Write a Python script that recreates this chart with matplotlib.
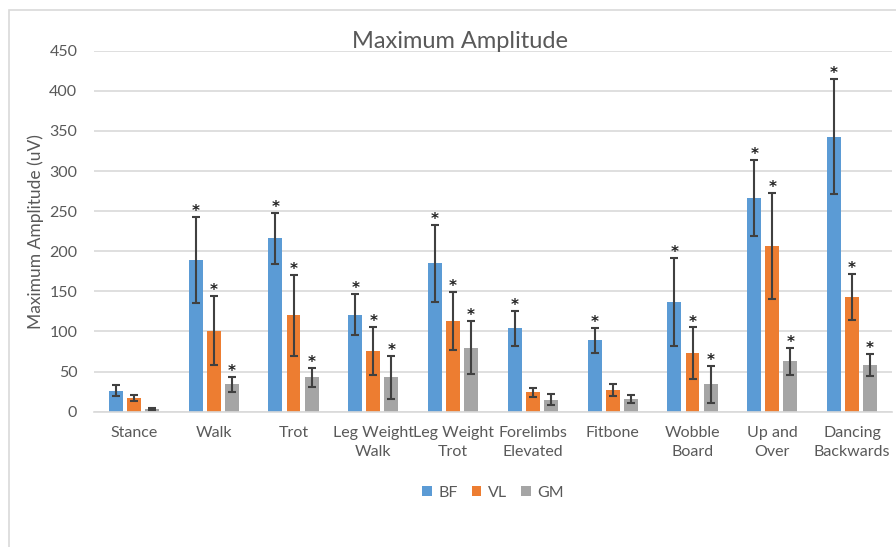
import matplotlib
matplotlib.use("Agg")
import matplotlib.pyplot as plt
import numpy as np
from matplotlib.patches import Rectangle

categories = ["Stance", "Walk", "Trot", "Leg Weight\nWalk", "Leg Weight\nTrot",
              "Forelimbs\nElevated", "Fitbone", "Wobble\nBoard", "Up and\nOver",
              "Dancing\nBackwards"]
series_names = ["BF", "VL", "GM"]
bf = [26, 189, 216, 121, 185, 104, 89, 137, 266, 343]
vl = [17, 101, 120, 76, 113, 24, 27, 73, 207, 143]
gm = [3, 34, 43, 43, 80, 15, 16, 34, 63, 58]
bf_err = [7, 54, 32, 26, 48, 22, 15.5, 55, 47.5, 71.5]
vl_err = [4, 43, 51, 30, 36, 5.5, 7.7, 32, 66, 29]
gm_err = [1.5, 9.5, 12, 27, 33, 6.5, 5, 23, 17, 14]
bf_sig = [0, 1, 1, 1, 1, 1, 1, 1, 1, 1]
vl_sig = [0, 1, 1, 1, 1, 0, 0, 1, 1, 1]
gm_sig = [0, 1, 1, 1, 1, 0, 0, 1, 1, 1]

plt.rcParams["font.family"] = ["Lato", "DejaVu Sans"]

colors = ["#5B9BD5", "#ED7D31", "#A5A5A5"]
text_col = "#595959"

W, H = 896, 547
fig = plt.figure(figsize=(W / 100, H / 100), dpi=100)
fig.patch.set_facecolor("white")
# chart area border
fig.patches.append(Rectangle((9 / W, -0.05), 1.2, (H - 10) / H + 0.05,
                             transform=fig.transFigure, fill=False,
                             edgecolor="#d9d9d9", lw=1.2))

ax = fig.add_axes([94 / W, (H - 411.7) / H, (892 - 94) / W, (411.7 - 50.7) / H])
x = np.arange(len(categories))
bw = 0.175
step = 0.226
vals = [bf, vl, gm]
errs = [bf_err, vl_err, gm_err]
sigs = [bf_sig, vl_sig, gm_sig]
for i in range(3):
    xs = x + (i - 1) * step
    ax.bar(xs, vals[i], width=bw, color=colors[i], label=series_names[i], zorder=2)
    ax.errorbar(xs, vals[i], yerr=errs[i], fmt="none", ecolor="#404040",
                elinewidth=1.5, capsize=3, capthick=1.5, zorder=3)
    for xi, v, e, s in zip(xs, vals[i], errs[i], sigs[i]):
        if s:
            ax.annotate("*", (xi, v + e), xytext=(0, -1.5), textcoords="offset points",
                        ha="center", va="bottom", fontsize=11, fontweight="bold",
                        color="#222222", zorder=4, family="DejaVu Sans")

ax.set_xlim(-0.5, len(categories) - 0.5)
ax.set_ylim(0, 450)
ax.set_yticks(np.arange(0, 451, 50))
ax.yaxis.grid(True, color="#d9d9d9", lw=1.2, zorder=0)
ax.set_axisbelow(True)
for sp in ["top", "right", "left"]:
    ax.spines[sp].set_visible(False)
ax.spines["bottom"].set_color("#d9d9d9")
ax.spines["bottom"].set_linewidth(1.2)
ax.tick_params(axis="both", length=0, colors=text_col, labelsize=11.5)
ax.tick_params(axis="y", pad=12)
ax.tick_params(axis="x", pad=10)
ax.set_xticks(x)
ax.set_xticklabels(categories, linespacing=1.5)
ax.set_ylabel("Maximum Amplitude (uV)", color=text_col, fontsize=12.5, labelpad=4)

fig.text(460 / W, 1 - 42 / H, "Maximum Amplitude", ha="center", va="center",
         fontsize=17, color=text_col)

leg = fig.legend(loc="center", bbox_to_anchor=(493 / W, 1 - 493 / H), ncol=3,
                 frameon=False, fontsize=11.5, handlelength=0.6, handleheight=0.6,
                 handletextpad=0.4, columnspacing=0.9)
for t in leg.get_texts():
    t.set_color(text_col)

fig.savefig("out.png", dpi=100)
